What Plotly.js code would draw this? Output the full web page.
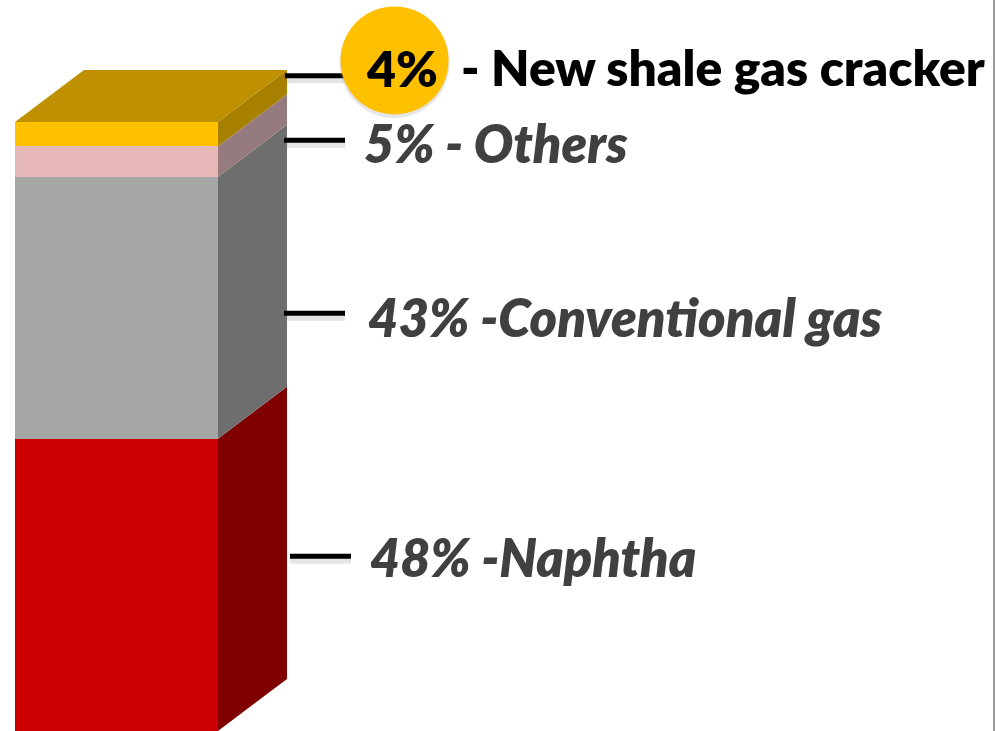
<!DOCTYPE html>
<html>
<head>
<meta charset="utf-8">
<script src="https://cdn.plot.ly/plotly-3.0.1.min.js"></script>
<style>html,body{margin:0;padding:0;background:#fff;overflow:hidden}#chart{width:996px;height:731px;filter:blur(0.5px)}</style>
</head>
<body>
<div id="chart"></div>
<script>
// Data, bottom to top of the stack
const categories = ['Naphtha', 'Conventional gas', 'Others', 'New shale gas cracker'];
const shares = [48, 43, 5, 4];
const labels = ['48% -Naphtha', '43% -Conventional gas', '5% - Others', '- New shale gas cracker'];
const calloutText = '4%';
const frontColors = ['#CC0000', '#A6A6A6', '#E6B9B8', '#FFC000'];
const sideColors = ['#800000', '#6E6E6E', '#957B7D', '#A88000'];
const topColor = '#BF9000';
const textColors = ['#404040', '#404040', '#404040', '#000000'];

// Chart geometry in axis units (x axis in px-sized units, y axis in percent)
const xRange = [0, 996];
const yRange = [0, 120.03];
const barCenter = 116.5, barWidth = 203;
const depthX = 69, depthY = 8.54;
const leaderY = [28.7, 68.6, 97.0, 107.6];
const leaderX = [[290, 351], [284, 345], [284, 345], [285, 345]];
const labelX = [368, 366, 362, 459];
const labelY = [28.6, 68.0, 96.6, 109.0];
const fontSizes = [52, 52.4, 52, 49.7];
const calloutX = 401.5, calloutY = 108.8;
const circleX = 394.5, circleY = 110.1;

const xL = barCenter - barWidth / 2, xR = barCenter + barWidth / 2;
const traces = [];

// Front faces: stacked bars
categories.forEach((c, i) => traces.push({
  type: 'bar', x: [barCenter], y: [shares[i]], width: [barWidth], name: c,
  marker: {color: frontColors[i], line: {width: 0}}, hoverinfo: 'skip'
}));

// Side faces, derived from the cumulated shares
let base = 0;
categories.forEach((c, i) => {
  const t = base + shares[i];
  traces.push({
    type: 'scatter', mode: 'lines', fill: 'toself', fillcolor: sideColors[i],
    x: [xR, xR + depthX, xR + depthX, xR, xR],
    y: [base, base + depthY, t + depthY, t, base],
    line: {width: 0, color: sideColors[i]}, hoverinfo: 'skip'
  });
  base = t;
});

// Top face
traces.push({
  type: 'scatter', mode: 'lines', fill: 'toself', fillcolor: topColor,
  x: [xL, xR, xR + depthX, xL + depthX, xL],
  y: [base, base, base + depthY, base + depthY, base],
  line: {width: 0, color: topColor}, hoverinfo: 'skip'
});

// Leader lines with a soft shadow
categories.forEach((c, i) => {
  traces.push({type: 'scatter', mode: 'lines', x: leaderX[i], y: [leaderY[i] - 0.6, leaderY[i] - 0.6],
    line: {color: 'rgba(120,120,120,0.2)', width: 8}, hoverinfo: 'skip'});
  traces.push({type: 'scatter', mode: 'lines', x: leaderX[i], y: [leaderY[i], leaderY[i]],
    line: {color: '#000000', width: 5}, hoverinfo: 'skip'});
});

// Callout circle
traces.push({type: 'scatter', mode: 'markers', x: [circleX], y: [circleY - 0.4],
  marker: {size: 110, color: 'rgba(150,150,150,0.25)', line: {width: 0}}, hoverinfo: 'skip'});
traces.push({type: 'scatter', mode: 'markers', x: [circleX], y: [circleY],
  marker: {size: 108, color: '#FFC000', line: {width: 0}}, hoverinfo: 'skip'});

const annotations = labels.map((t, i) => ({
  x: labelX[i], y: labelY[i], xref: 'x', yref: 'y', xanchor: 'left', yanchor: 'middle',
  text: t, showarrow: false,
  font: {family: 'Lato, sans-serif', size: fontSizes[i], color: textColors[i],
         weight: 800, style: i < 3 ? 'italic' : 'normal'}
}));
annotations.push({
  x: calloutX, y: calloutY, xref: 'x', yref: 'y', xanchor: 'center', yanchor: 'middle',
  text: calloutText, showarrow: false,
  font: {family: 'Lato, sans-serif', size: 50, color: '#000000', weight: 800}
});

Plotly.newPlot('chart', traces, {
  width: 996, height: 731, margin: {l: 0, r: 0, t: 0, b: 0},
  paper_bgcolor: '#ffffff', plot_bgcolor: '#ffffff', showlegend: false, barmode: 'stack',
  xaxis: {range: xRange, visible: false, fixedrange: true},
  yaxis: {range: yRange, visible: false, fixedrange: true},
  annotations: annotations,
  shapes: [{type: 'line', xref: 'paper', yref: 'paper', x0: 0.998, x1: 0.998, y0: 0, y1: 1,
            line: {color: '#999999', width: 2}}]
}, {displayModeBar: false, staticPlot: true});
</script>
</body>
</html>
